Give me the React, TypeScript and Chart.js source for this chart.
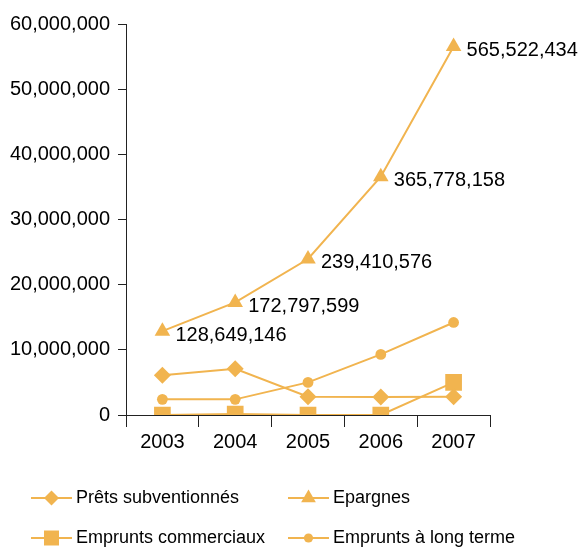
import React, { useEffect, useRef } from 'react';
import { Chart, registerables } from 'chart.js';
import { drawPoint } from 'chart.js/helpers';

Chart.register(...registerables);

const years = ['2003', '2004', '2005', '2006', '2007'];
const pretsSubventionnes = [6100000, 7100000, 2800000, 2750000, 2800000];
const epargnes = [12864915, 17279760, 23941058, 36577816, 56552243];
const empruntsCommerciaux = [0, 150000, 0, 0, 5000000];
const empruntsLongTerme = [2400000, 2400000, 5000000, 9300000, 14200000];
const epargnesLabels = ['128,649,146', '172,797,599', '239,410,576', '365,778,158', '565,522,434'];
const seriesNames = ['Prêts subventionnés', 'Epargnes', 'Emprunts commerciaux', 'Emprunts à long terme'];
const yMin = 0;
const yMax = 60000000;
const yStep = 10000000;

const COLOR = '#F1B44F';
const AXIS = '#222222';
const FONT = "'Liberation Sans', Arial, Helvetica, sans-serif";

const styles = [
  { pointStyle: 'rectRot', radius: 8.5, legendRadius: 7.5 },
  { pointStyle: 'triangle', radius: 9, legendRadius: 8.5 },
  { pointStyle: 'rect', radius: 11.8, legendRadius: 10.6 },
  { pointStyle: 'circle', radius: 5.4, legendRadius: 4.6 },
];

const legendSlots = [
  { lineX: 31, textX: 76, y: 498 },
  { lineX: 288, textX: 333, y: 498 },
  { lineX: 31, textX: 76, y: 538 },
  { lineX: 288, textX: 333, y: 538 },
];

const labelPlugin = {
  id: 'epargneLabels',
  afterDatasetsDraw(chart: any) {
    const meta = chart.getDatasetMeta(1);
    const ctx = chart.ctx;
    ctx.save();
    ctx.font = `20px ${FONT}`;
    ctx.fillStyle = '#000';
    ctx.textBaseline = 'middle';
    ctx.textAlign = 'left';
    meta.data.forEach((pt: any, i: number) => {
      ctx.fillText(epargnesLabels[i], pt.x + 13, pt.y + 4);
    });
    ctx.restore();
  },
};

const legendPlugin = {
  id: 'customLegend',
  afterDraw(chart: any) {
    const ctx = chart.ctx;
    ctx.save();
    seriesNames.forEach((name, i) => {
      const slot = legendSlots[i];
      const st = styles[i];
      ctx.strokeStyle = COLOR;
      ctx.lineWidth = 2;
      ctx.beginPath();
      ctx.moveTo(slot.lineX, slot.y);
      ctx.lineTo(slot.lineX + 41, slot.y);
      ctx.stroke();
      ctx.fillStyle = COLOR;
      drawPoint(ctx, { pointStyle: st.pointStyle, radius: st.legendRadius, borderWidth: 0, rotation: 0 } as any, slot.lineX + 20.5, slot.y);
      ctx.fillStyle = '#000';
      ctx.font = `18px ${FONT}`;
      ctx.textBaseline = 'middle';
      ctx.textAlign = 'left';
      ctx.fillText(name, slot.textX, slot.y);
    });
    ctx.restore();
  },
};

export default function App() {
  const ref = useRef<HTMLCanvasElement>(null);
  useEffect(() => {
    document.body.style.margin = '0';
    const seriesData = [pretsSubventionnes, epargnes, empruntsCommerciaux, empruntsLongTerme];
    const chart = new Chart(ref.current as HTMLCanvasElement, {
      type: 'line',
      data: {
        labels: years,
        datasets: seriesNames.map((name, i) => ({
          label: name,
          data: seriesData[i],
          borderColor: COLOR,
          backgroundColor: COLOR,
          borderWidth: 2,
          tension: 0,
          pointStyle: styles[i].pointStyle as any,
          pointRadius: styles[i].radius,
          pointHoverRadius: styles[i].radius,
          pointBorderWidth: 0,
          pointBackgroundColor: COLOR,
          pointBorderColor: COLOR,
        })),
      },
      options: {
        responsive: false,
        animation: false,
        layout: { padding: { top: 24, right: 94, bottom: 93, left: 0 } },
        plugins: {
          legend: { display: false },
          tooltip: { enabled: false },
        },
        scales: {
          x: {
            offset: true,
            grid: { offset: true, drawOnChartArea: false, drawTicks: true, tickLength: 12, color: AXIS, lineWidth: 1 },
            border: { display: true, color: AXIS, width: 1 },
            ticks: { color: '#000', font: { family: FONT, size: 20 }, padding: 3, maxRotation: 0 },
            afterFit: (s: any) => { s.height = 40; },
          },
          y: {
            min: yMin,
            max: yMax,
            grid: { drawOnChartArea: false, drawTicks: true, tickLength: 8, color: AXIS, lineWidth: 1 },
            border: { display: true, color: AXIS, width: 1 },
            ticks: {
              stepSize: yStep,
              color: '#000',
              font: { family: FONT, size: 20 },
              padding: 8,
              callback: (v: any) => Number(v).toLocaleString('en-US'),
            },
            afterFit: (s: any) => { s.width = 126; },
          },
        },
      },
      plugins: [labelPlugin, legendPlugin],
    });
    return () => chart.destroy();
  }, []);
  return (
    <div style={{ width: 584, height: 548 }}>
      <canvas ref={ref} width={584} height={548} style={{ display: 'block' }} />
    </div>
  );
}
